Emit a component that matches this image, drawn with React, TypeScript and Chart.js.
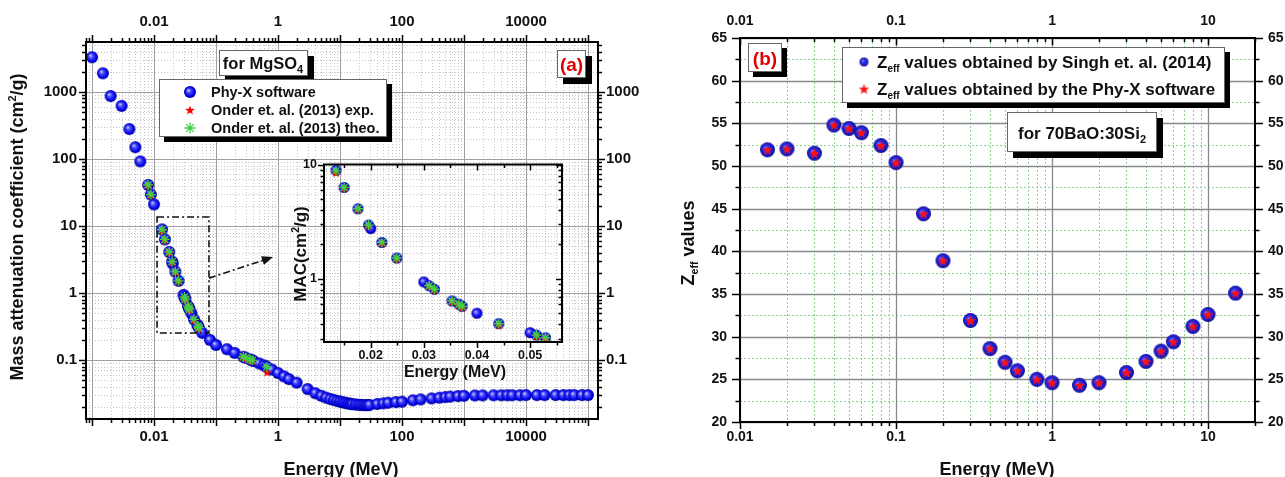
import React, { useEffect, useRef } from 'react';
import { Chart, registerables } from 'chart.js';

Chart.register(...registerables);

const FONT = "'Liberation Sans', Arial, Helvetica, sans-serif";

// ---------------- Panel (a): MAC of MgSO4 ----------------
const phyxEnergy = [
  0.001, 0.0015, 0.002, 0.003, 0.004, 0.005, 0.006, 0.00804, 0.00891, 0.01,
  0.01346, 0.015, 0.0176, 0.0196, 0.02, 0.0221, 0.0249, 0.03, 0.031, 0.032,
  0.0353, 0.0366, 0.0372, 0.04, 0.0441, 0.05, 0.0512, 0.0529, 0.06, 0.08,
  0.1, 0.15, 0.2, 0.276, 0.303, 0.356, 0.384, 0.4, 0.5, 0.6,
  0.662, 0.8, 1, 1.25, 1.5, 2, 3, 4, 5, 6,
  7, 8, 9, 10, 11, 12, 13, 14, 15, 16,
  18, 20, 22, 24, 26, 28, 30, 40, 50, 60,
  80, 100, 150, 200, 300, 400, 500, 600, 800, 1000,
  1500, 2000, 3000, 4000, 5000, 6000, 8000, 10000, 15000, 20000,
  30000, 40000, 50000, 60000, 80000, 100000,
];
const phyxMac = [
  3300, 1900, 870, 620, 280, 150, 92, 41, 29.5, 21,
  8.9, 6.3, 4.1, 2.95, 2.75, 2.08, 1.52, 0.94, 0.87, 0.81,
  0.64, 0.6, 0.575, 0.5, 0.405, 0.338, 0.322, 0.305, 0.255, 0.2,
  0.168, 0.145, 0.128, 0.112, 0.108, 0.102, 0.099, 0.097, 0.089, 0.083,
  0.079, 0.072, 0.064, 0.057, 0.052, 0.046, 0.037, 0.032, 0.0293, 0.0275,
  0.0262, 0.0253, 0.0246, 0.024, 0.0235, 0.0231, 0.0227, 0.0224, 0.0222, 0.022,
  0.0217, 0.0215, 0.0214, 0.0213, 0.0213, 0.0213, 0.0214, 0.0221, 0.0226, 0.0231,
  0.0236, 0.0239, 0.0251, 0.0259, 0.0268, 0.0274, 0.028, 0.0285, 0.029, 0.0293,
  0.0296, 0.0297, 0.0298, 0.0298, 0.0299, 0.0299, 0.0299, 0.03, 0.03, 0.03,
  0.03, 0.03, 0.03, 0.03, 0.03, 0.03,
];
const onderEnergy = [
  0.00804, 0.00891, 0.01346, 0.015, 0.0176, 0.0196, 0.0221, 0.0249, 0.031, 0.032,
  0.0353, 0.0366, 0.0372, 0.0441, 0.0512, 0.0529, 0.276, 0.303, 0.356, 0.384, 0.662,
];
const onderExp = [
  40, 29, 8.5, 6.2, 4.05, 2.9, 2.05, 1.5, 0.86, 0.8,
  0.63, 0.59, 0.56, 0.395, 0.315, 0.3, 0.111, 0.107, 0.1, 0.097, 0.066,
];
const onderTheo = [
  41, 29.5, 8.8, 6.3, 4.1, 2.95, 2.08, 1.52, 0.87, 0.81,
  0.64, 0.6, 0.575, 0.405, 0.322, 0.305, 0.112, 0.108, 0.102, 0.099, 0.079,
];
const aXLabels = [0.01, 1, 100, 10000];
const aYLabels = [0.1, 1, 10, 100, 1000];
const insetXTicks = [0.015, 0.02, 0.025, 0.03, 0.035, 0.04, 0.045, 0.05, 0.055];
const insetXLabels = [0.02, 0.03, 0.04, 0.05];
const insetYLabels = [1, 10];
// zoom box and arrow (data coordinates of panel a)
const zoomBoxEnergy = [0.0112, 0.077];
const zoomBoxMac = [0.253, 13.6];
const arrowFrom = [0.077, 1.67];
const arrowTo = [0.83, 3.44];

// ---------------- Panel (b): Zeff of 70BaO:30Si2 ----------------
const zeffEnergy = [
  0.015, 0.02, 0.03, 0.04, 0.05, 0.06, 0.08, 0.1, 0.15, 0.2,
  0.3, 0.4, 0.5, 0.6, 0.8, 1, 1.5, 2, 3, 4, 5, 6, 8, 10, 15,
];
const zeffSingh = [
  51.9, 52.0, 51.5, 54.8, 54.4, 53.9, 52.4, 50.4, 44.4, 38.9,
  31.9, 28.6, 27.0, 26.0, 25.0, 24.6, 24.3, 24.6, 25.8, 27.1, 28.3, 29.4, 31.2, 32.6, 35.1,
];
const zeffPhyx = [
  51.9, 52.0, 51.5, 54.8, 54.4, 53.9, 52.4, 50.4, 44.4, 38.9,
  31.9, 28.6, 27.0, 26.0, 25.0, 24.6, 24.3, 24.6, 25.8, 27.1, 28.3, 29.4, 31.2, 32.6, 35.1,
];
const bXLabels = [0.01, 0.1, 1, 10];
const bYTicks = [20, 22.5, 25, 27.5, 30, 32.5, 35, 37.5, 40, 42.5, 45, 47.5, 50, 52.5, 55, 57.5, 60, 62.5, 65];
const bYLabels = [20, 25, 30, 35, 40, 45, 50, 55, 60, 65];

// ---------------- helpers ----------------
function logTicks(min: number, max: number): number[] {
  const out: number[] = [];
  for (let e = Math.floor(Math.log10(min)) - 1; e <= Math.ceil(Math.log10(max)); e++) {
    for (let m = 1; m <= 9; m++) {
      const v = m * Math.pow(10, e);
      if (v >= min * 0.9999 && v <= max * 1.0001) out.push(v);
    }
  }
  return out;
}
const isDecade = (v: number) => {
  const l = Math.log10(v);
  return Math.abs(l - Math.round(l)) < 1e-6;
};
const pts = (xs: number[], ys: number[]) => xs.map((x, i) => ({ x, y: ys[i] }));

function sphereImage(r: number, c0: string, c1: string, c2: string, c3: string) {
  const s = Math.ceil(r * 2 + 2);
  const c = document.createElement('canvas');
  c.width = s;
  c.height = s;
  const g = c.getContext('2d')!;
  const cx = s / 2, cy = s / 2;
  const grad = g.createRadialGradient(cx - r * 0.3, cy - r * 0.3, 0, cx, cy, r);
  grad.addColorStop(0, c0);
  grad.addColorStop(0.35, c1);
  grad.addColorStop(0.8, c2);
  grad.addColorStop(1, c3);
  g.fillStyle = grad;
  g.beginPath();
  g.arc(cx, cy, r, 0, Math.PI * 2);
  g.fill();
  return c;
}
function starPath(g: CanvasRenderingContext2D, cx: number, cy: number, ro: number, ri: number) {
  g.beginPath();
  for (let i = 0; i < 10; i++) {
    const a = -Math.PI / 2 + (i * Math.PI) / 5;
    const rr = i % 2 === 0 ? ro : ri;
    const x = cx + rr * Math.cos(a), y = cy + rr * Math.sin(a);
    if (i === 0) g.moveTo(x, y);
    else g.lineTo(x, y);
  }
  g.closePath();
}
function starImage(r: number, fill: string) {
  const s = Math.ceil(r * 2 + 2);
  const c = document.createElement('canvas');
  c.width = s;
  c.height = s;
  const g = c.getContext('2d')!;
  starPath(g, s / 2, s / 2 + 0.5, r, r * 0.42);
  g.fillStyle = fill;
  g.fill();
  return c;
}
function combo(sph: HTMLCanvasElement, st: HTMLCanvasElement) {
  const s = Math.max(sph.width, st.width);
  const c = document.createElement('canvas');
  c.width = s;
  c.height = s;
  const g = c.getContext('2d')!;
  g.drawImage(sph, (s - sph.width) / 2, (s - sph.height) / 2);
  g.drawImage(st, (s - st.width) / 2, (s - st.height) / 2);
  return c;
}

function makeAxis(cfg: {
  type: 'logarithmic' | 'linear';
  position: 'left' | 'right' | 'top' | 'bottom';
  min: number;
  max: number;
  ticks: number[];
  labels: number[];
  fontSize: number;
  padding: number;
  size: number;
}) {
  const vertical = cfg.position === 'left' || cfg.position === 'right';
  return {
    type: cfg.type,
    position: cfg.position,
    min: cfg.min,
    max: cfg.max,
    grid: { display: false, drawTicks: false, drawOnChartArea: false },
    border: { display: false },
    afterBuildTicks: (s: any) => {
      s.ticks = cfg.ticks.map((v) => ({ value: v }));
    },
    afterFit: (s: any) => {
      if (vertical) s.width = cfg.size;
      else s.height = cfg.size;
    },
    ticks: {
      autoSkip: false,
      maxRotation: 0,
      minRotation: 0,
      padding: cfg.padding,
      color: '#111',
      font: { family: FONT, size: cfg.fontSize, weight: 'bold' },
      callback: (v: any) => {
        const n = Number(v);
        const m = cfg.labels.find((l) => Math.abs(l - n) <= Math.abs(l) * 1e-6);
        return m === undefined ? '' : String(m);
      },
    },
  };
}

function vLine(ctx: CanvasRenderingContext2D, x: number, t: number, b: number) {
  const p = Math.round(x) + 0.5;
  ctx.beginPath();
  ctx.moveTo(p, t);
  ctx.lineTo(p, b);
  ctx.stroke();
}
function hLine(ctx: CanvasRenderingContext2D, y: number, l: number, r: number) {
  const p = Math.round(y) + 0.5;
  ctx.beginPath();
  ctx.moveTo(l, p);
  ctx.lineTo(r, p);
  ctx.stroke();
}
function tickMarks(
  ctx: CanvasRenderingContext2D, ca: any, scale: any, values: number[],
  side: 'left' | 'right' | 'top' | 'bottom', dir: number,
  isMajor: (v: number) => boolean, lMaj: number, lMin: number,
) {
  ctx.beginPath();
  for (const v of values) {
    const len = isMajor(v) ? lMaj : lMin;
    if (side === 'top' || side === 'bottom') {
      const x = Math.round(scale.getPixelForValue(v)) + 0.5;
      const y0 = side === 'bottom' ? ca.bottom : ca.top;
      const sg = (side === 'bottom' ? 1 : -1) * dir;
      ctx.moveTo(x, y0);
      ctx.lineTo(x, y0 + sg * len);
    } else {
      const y = Math.round(scale.getPixelForValue(v)) + 0.5;
      const x0 = side === 'right' ? ca.right : ca.left;
      const sg = (side === 'right' ? 1 : -1) * dir;
      ctx.moveTo(x0, y);
      ctx.lineTo(x0 + sg * len, y);
    }
  }
  ctx.stroke();
}

type Seg = { t: string; s: number; dy?: number };
function setFont(ctx: CanvasRenderingContext2D, s: number) {
  ctx.font = `bold ${s}px ${FONT}`;
}
function segWidth(ctx: CanvasRenderingContext2D, segs: Seg[]) {
  let w = 0;
  for (const g of segs) {
    setFont(ctx, g.s);
    w += ctx.measureText(g.t).width;
  }
  return w;
}
function drawSegs(ctx: CanvasRenderingContext2D, segs: Seg[], x: number, y: number, align: 'left' | 'center', color: string) {
  ctx.fillStyle = color;
  ctx.textBaseline = 'alphabetic';
  ctx.textAlign = 'left';
  let cx = align === 'center' ? x - segWidth(ctx, segs) / 2 : x;
  for (const g of segs) {
    setFont(ctx, g.s);
    ctx.fillText(g.t, cx, y + (g.dy || 0));
    cx += ctx.measureText(g.t).width;
  }
}
function drawRotSegs(ctx: CanvasRenderingContext2D, segs: Seg[], cx: number, cy: number, size: number, color: string) {
  ctx.save();
  ctx.translate(cx, cy);
  ctx.rotate(-Math.PI / 2);
  drawSegs(ctx, segs, 0, size * 0.36, 'center', color);
  ctx.restore();
}
function shadowBox(ctx: CanvasRenderingContext2D, x: number, y: number, w: number, h: number, off: number) {
  ctx.setLineDash([]);
  ctx.fillStyle = '#000';
  ctx.fillRect(x + off, y + off, w, h);
  ctx.fillStyle = '#fff';
  ctx.fillRect(x, y, w, h);
  ctx.strokeStyle = '#666';
  ctx.lineWidth = 1;
  ctx.strokeRect(x + 0.5, y + 0.5, w - 1, h - 1);
}
function asterisk(ctx: CanvasRenderingContext2D, x: number, y: number, r: number, color: string) {
  ctx.strokeStyle = color;
  ctx.lineWidth = 1.3;
  ctx.setLineDash([]);
  ctx.beginPath();
  for (let i = 0; i < 4; i++) {
    const a = (i * Math.PI) / 4;
    ctx.moveTo(x - r * Math.cos(a), y - r * Math.sin(a));
    ctx.lineTo(x + r * Math.cos(a), y + r * Math.sin(a));
  }
  ctx.stroke();
}

// axis ranges
const A_X = [8.0e-4, 1.45e5];
const A_Y = [0.0132, 5570];
const IN_X = [0.0112, 0.056];
const IN_Y = [0.28, 10];
const B_X = [0.01, 20];
const B_Y = [20, 65];

export default function App() {
  const aRef = useRef<HTMLCanvasElement>(null);
  const inRef = useRef<HTMLCanvasElement>(null);
  const bRef = useRef<HTMLCanvasElement>(null);

  useEffect(() => {
    const charts: Chart[] = [];
    const sphA = sphereImage(6, '#e0e0ff', '#4a4aff', '#0000e6', '#00008c');
    const sphIn = sphereImage(5.5, '#e0e0ff', '#4a4aff', '#0000e6', '#00008c');
    const sphLeg = sphereImage(6, '#e0e0ff', '#4a4aff', '#0000e6', '#00008c');
    const starA = starImage(5, '#ff0000');
    const sphB = sphereImage(7.5, '#8080ff', '#3030e8', '#1a1ac8', '#0c0c80');
    const starB = starImage(5.5, '#ff1010');
    const sphBLeg = sphereImage(4.5, '#b0b0ff', '#3030e8', '#1a1ac8', '#0c0c80');

    const aXTicks = logTicks(A_X[0], A_X[1]);
    const aYTicks = logTicks(A_Y[0], A_Y[1]);
    const inYTicks = logTicks(IN_Y[0], IN_Y[1]);
    const bXTicks = logTicks(B_X[0], B_X[1]);

    const commonOpts = {
      responsive: false,
      maintainAspectRatio: false,
      animation: false as const,
      devicePixelRatio: 1,
      events: [] as any[],
    };

    // ---------- Panel (a) main ----------
    const aPlugin = {
      id: 'aDecor',
      beforeDatasetsDraw(chart: any) {
        const { ctx, chartArea: ca } = chart;
        const sx = chart.scales.x, sy = chart.scales.y;
        ctx.save();
        ctx.lineWidth = 1;
        ctx.strokeStyle = '#c6c6c6';
        ctx.setLineDash([1, 2]);
        for (const v of aXTicks) if (!isDecade(v)) vLine(ctx, sx.getPixelForValue(v), ca.top, ca.bottom);
        for (const v of aYTicks) if (!isDecade(v)) hLine(ctx, sy.getPixelForValue(v), ca.left, ca.right);
        ctx.setLineDash([]);
        ctx.strokeStyle = '#a0a0a0';
        for (const v of aXTicks) if (isDecade(v)) vLine(ctx, sx.getPixelForValue(v), ca.top, ca.bottom);
        for (const v of aYTicks) if (isDecade(v)) hLine(ctx, sy.getPixelForValue(v), ca.left, ca.right);
        ctx.restore();
      },
      afterDraw(chart: any) {
        const { ctx, chartArea: ca } = chart;
        const sx = chart.scales.x, sy = chart.scales.y;
        ctx.save();
        // frame + ticks
        ctx.strokeStyle = '#000';
        ctx.lineWidth = 1.5;
        tickMarks(ctx, ca, sx, aXTicks, 'bottom', 1, isDecade, 7, 4);
        tickMarks(ctx, ca, sx, aXTicks, 'top', 1, isDecade, 7, 4);
        tickMarks(ctx, ca, sy, aYTicks, 'left', 1, isDecade, 7, 4);
        tickMarks(ctx, ca, sy, aYTicks, 'right', 1, isDecade, 7, 4);
        ctx.lineWidth = 2;
        ctx.strokeRect(ca.left, ca.top, ca.right - ca.left, ca.bottom - ca.top);

        // zoom box + arrow
        const bx0 = sx.getPixelForValue(zoomBoxEnergy[0]);
        const bx1 = sx.getPixelForValue(zoomBoxEnergy[1]);
        const by0 = sy.getPixelForValue(zoomBoxMac[1]);
        const by1 = sy.getPixelForValue(zoomBoxMac[0]);
        ctx.strokeStyle = '#111';
        ctx.lineWidth = 1.6;
        ctx.setLineDash([7, 3, 2, 3]);
        ctx.strokeRect(bx0, by0, bx1 - bx0, by1 - by0);
        const ax0 = sx.getPixelForValue(arrowFrom[0]), ay0 = sy.getPixelForValue(arrowFrom[1]);
        const ax1 = sx.getPixelForValue(arrowTo[0]), ay1 = sy.getPixelForValue(arrowTo[1]);
        const ang = Math.atan2(ay1 - ay0, ax1 - ax0);
        ctx.beginPath();
        ctx.moveTo(ax0, ay0);
        ctx.lineTo(ax1 - 8 * Math.cos(ang), ay1 - 8 * Math.sin(ang));
        ctx.stroke();
        ctx.setLineDash([]);
        ctx.fillStyle = '#111';
        ctx.beginPath();
        ctx.moveTo(ax1, ay1);
        ctx.lineTo(ax1 - 11 * Math.cos(ang) + 4.5 * Math.sin(ang), ay1 - 11 * Math.sin(ang) - 4.5 * Math.cos(ang));
        ctx.lineTo(ax1 - 11 * Math.cos(ang) - 4.5 * Math.sin(ang), ay1 - 11 * Math.sin(ang) + 4.5 * Math.cos(ang));
        ctx.closePath();
        ctx.fill();

        // titles
        drawRotSegs(ctx, [
          { t: 'Mass attenuation coefficient (cm', s: 18 },
          { t: '2', s: 11, dy: -7 },
          { t: '/g)', s: 18 },
        ], 17, 227, 18, '#111');
        drawSegs(ctx, [{ t: 'Energy (MeV)', s: 18 }], 341, 475, 'center', '#111');

        // "for MgSO4" box
        shadowBox(ctx, 219, 50, 89, 26, 6);
        drawSegs(ctx, [{ t: 'for MgSO', s: 16.5 }, { t: '4', s: 11, dy: 4 }], 263, 69, 'center', '#111');
        // "(a)" box
        shadowBox(ctx, 557, 50, 29, 28, 6);
        drawSegs(ctx, [{ t: '(a)', s: 19 }], 571.5, 70.5, 'center', '#e00000');

        // legend
        shadowBox(ctx, 159, 79, 228, 58, 5);
        const lx = 190, tx = 211;
        ctx.drawImage(sphLeg, lx - sphLeg.width / 2, 92 - sphLeg.height / 2);
        ctx.drawImage(starA, lx - starA.width / 2, 110 - starA.height / 2);
        asterisk(ctx, lx, 128, 5.5, '#40d040');
        drawSegs(ctx, [{ t: 'Phy-X software', s: 14.5 }], tx, 97.2, 'left', '#111');
        drawSegs(ctx, [{ t: 'Onder et. al. (2013) exp.', s: 14.5 }], tx, 115.2, 'left', '#111');
        drawSegs(ctx, [{ t: 'Onder et. al. (2013) theo.', s: 14.5 }], tx, 133.2, 'left', '#111');
        ctx.restore();
      },
    };

    if (aRef.current) {
      charts.push(new Chart(aRef.current, {
        type: 'scatter',
        data: {
          datasets: [
            {
              label: 'Onder et. al. (2013) theo.',
              data: pts(onderEnergy, onderTheo),
              pointStyle: 'star',
              pointRadius: 5,
              borderColor: '#40d040',
              backgroundColor: '#40d040',
              borderWidth: 1.3,
              order: 0,
            },
            {
              label: 'Onder et. al. (2013) exp.',
              data: pts(onderEnergy, onderExp),
              pointStyle: starA,
              order: 1,
            },
            {
              label: 'Phy-X software',
              data: pts(phyxEnergy, phyxMac),
              pointStyle: sphA,
              order: 2,
            },
          ] as any,
        },
        options: {
          ...commonOpts,
          layout: { padding: 0 },
          plugins: { legend: { display: false }, tooltip: { enabled: false } },
          scales: {
            x: makeAxis({ type: 'logarithmic', position: 'bottom', min: A_X[0], max: A_X[1], ticks: aXTicks, labels: aXLabels, fontSize: 15, padding: 9, size: 58 }),
            x2: makeAxis({ type: 'logarithmic', position: 'top', min: A_X[0], max: A_X[1], ticks: aXTicks, labels: aXLabels, fontSize: 15, padding: 11, size: 42 }),
            y: makeAxis({ type: 'logarithmic', position: 'left', min: A_Y[0], max: A_Y[1], ticks: aYTicks, labels: aYLabels, fontSize: 15, padding: 9, size: 86 }),
            y2: makeAxis({ type: 'logarithmic', position: 'right', min: A_Y[0], max: A_Y[1], ticks: aYTicks, labels: aYLabels, fontSize: 15, padding: 8, size: 62 }),
          } as any,
        },
        plugins: [aPlugin],
      }));
    }

    // ---------- Inset ----------
    const inOff = { x: 280, y: 150 };
    const inPlugin = {
      id: 'inDecor',
      afterDraw(chart: any) {
        const { ctx, chartArea: ca } = chart;
        const sx = chart.scales.x, sy = chart.scales.y;
        ctx.save();
        ctx.strokeStyle = '#000';
        ctx.lineWidth = 1.5;
        const xMaj = (v: number) => insetXLabels.some((l) => Math.abs(l - v) < 1e-9);
        tickMarks(ctx, ca, sx, insetXTicks, 'bottom', 1, xMaj, 6, 3.5);
        tickMarks(ctx, ca, sx, insetXTicks, 'top', -1, xMaj, 6, 3.5);
        tickMarks(ctx, ca, sy, inYTicks, 'left', 1, isDecade, 6, 3.5);
        tickMarks(ctx, ca, sy, inYTicks, 'right', -1, isDecade, 6, 3.5);
        ctx.lineWidth = 2;
        ctx.strokeRect(ca.left, ca.top, ca.right - ca.left, ca.bottom - ca.top);
        ctx.translate(-inOff.x, -inOff.y);
        drawRotSegs(ctx, [
          { t: 'MAC(cm', s: 17 },
          { t: '2', s: 10.5, dy: -7 },
          { t: '/g)', s: 17 },
        ], 300, 254, 17, '#111');
        drawSegs(ctx, [{ t: 'Energy (MeV)', s: 16 }], 455, 377, 'center', '#111');
        ctx.restore();
      },
    };
    const inRange = (e: number) => e >= IN_X[0] && e <= IN_X[1];
    const inPhyx = pts(phyxEnergy, phyxMac).filter((p) => inRange(p.x));
    const inExp = pts(onderEnergy, onderExp).filter((p) => inRange(p.x));
    const inTheo = pts(onderEnergy, onderTheo).filter((p) => inRange(p.x));
    if (inRef.current) {
      charts.push(new Chart(inRef.current, {
        type: 'scatter',
        data: {
          datasets: [
            { label: 'theo', data: inTheo, pointStyle: 'star', pointRadius: 5, borderColor: '#40d040', backgroundColor: '#40d040', borderWidth: 1.3, order: 0 },
            { label: 'exp', data: inExp, pointStyle: starA, order: 1 },
            { label: 'phyx', data: inPhyx, pointStyle: sphIn, order: 2 },
          ] as any,
        },
        options: {
          ...commonOpts,
          layout: { padding: { top: 12, right: 18, left: 0, bottom: 0 } },
          plugins: { legend: { display: false }, tooltip: { enabled: false } },
          scales: {
            x: makeAxis({ type: 'linear', position: 'bottom', min: IN_X[0], max: IN_X[1], ticks: insetXTicks, labels: insetXLabels, fontSize: 12.5, padding: 6.5, size: 48 }),
            y: makeAxis({ type: 'logarithmic', position: 'left', min: IN_Y[0], max: IN_Y[1], ticks: inYTicks, labels: insetYLabels, fontSize: 12.5, padding: 7, size: 44 }),
          } as any,
        },
        plugins: [inPlugin],
      }));
    }

    // ---------- Panel (b) ----------
    const bOffX = 660;
    const bPlugin = {
      id: 'bDecor',
      beforeDatasetsDraw(chart: any) {
        const { ctx, chartArea: ca } = chart;
        const sx = chart.scales.x, sy = chart.scales.y;
        ctx.save();
        ctx.lineWidth = 1;
        ctx.strokeStyle = '#8fd08f';
        ctx.setLineDash([2, 2]);
        for (const v of bXTicks) if (!isDecade(v)) vLine(ctx, sx.getPixelForValue(v), ca.top, ca.bottom);
        for (const v of bYTicks) if (v % 5 !== 0) hLine(ctx, sy.getPixelForValue(v), ca.left, ca.right);
        ctx.setLineDash([]);
        ctx.strokeStyle = '#8a8a8a';
        ctx.lineWidth = 1.3;
        for (const v of bXTicks) if (isDecade(v)) vLine(ctx, sx.getPixelForValue(v), ca.top, ca.bottom);
        for (const v of bYTicks) if (v % 5 === 0) hLine(ctx, sy.getPixelForValue(v), ca.left, ca.right);
        ctx.restore();
      },
      afterDraw(chart: any) {
        const { ctx, chartArea: ca } = chart;
        const sx = chart.scales.x, sy = chart.scales.y;
        ctx.save();
        ctx.strokeStyle = '#000';
        ctx.lineWidth = 1.5;
        const yMaj = (v: number) => v % 5 === 0;
        tickMarks(ctx, ca, sx, bXTicks, 'bottom', 1, isDecade, 7, 4);
        tickMarks(ctx, ca, sx, bXTicks, 'top', -1, isDecade, 7, 4);
        tickMarks(ctx, ca, sy, bYTicks, 'left', 1, yMaj, 8, 4.5);
        tickMarks(ctx, ca, sy, bYTicks, 'right', 1, yMaj, 8, 4.5);
        ctx.lineWidth = 2;
        ctx.strokeRect(ca.left, ca.top, ca.right - ca.left, ca.bottom - ca.top);

        ctx.translate(-bOffX, 0);
        drawRotSegs(ctx, [
          { t: 'Z', s: 18 },
          { t: 'eff', s: 10.5, dy: 4 },
          { t: ' values', s: 18 },
        ], 688, 243, 18, '#111');
        drawSegs(ctx, [{ t: 'Energy (MeV)', s: 18 }], 997, 475, 'center', '#111');

        // (b)
        shadowBox(ctx, 748, 43, 34, 29, 5);
        drawSegs(ctx, [{ t: '(b)', s: 19 }], 765, 65, 'center', '#e00000');
        // legend
        shadowBox(ctx, 842, 47, 383, 56, 5);
        ctx.drawImage(sphBLeg, 864 - sphBLeg.width / 2, 62 - sphBLeg.height / 2);
        ctx.drawImage(starB, 864 - starB.width / 2, 89 - starB.height / 2);
        drawSegs(ctx, [
          { t: 'Z', s: 17 },
          { t: 'eff', s: 10, dy: 4 },
          { t: ' values obtained by Singh et. al. (2014)', s: 17 },
        ], 877, 68, 'left', '#111');
        drawSegs(ctx, [
          { t: 'Z', s: 17 },
          { t: 'eff', s: 10, dy: 4 },
          { t: ' values obtained by the Phy-X software', s: 17 },
        ], 877, 95, 'left', '#111');
        // material box
        shadowBox(ctx, 1007, 112, 150, 40, 6);
        drawSegs(ctx, [{ t: 'for 70BaO:30Si', s: 17 }, { t: '2', s: 11, dy: 4 }], 1082, 139, 'center', '#111');
        ctx.restore();
      },
    };
    if (bRef.current) {
      charts.push(new Chart(bRef.current, {
        type: 'scatter',
        data: {
          datasets: [
            { label: 'Zeff values obtained by the Phy-X software', data: pts(zeffEnergy, zeffPhyx), pointStyle: starB, order: 0 },
            { label: 'Zeff values obtained by Singh et. al. (2014)', data: pts(zeffEnergy, zeffSingh), pointStyle: sphB, order: 1 },
          ] as any,
        },
        options: {
          ...commonOpts,
          layout: { padding: 0 },
          plugins: { legend: { display: false }, tooltip: { enabled: false } },
          scales: {
            x: makeAxis({ type: 'logarithmic', position: 'bottom', min: B_X[0], max: B_X[1], ticks: bXTicks, labels: bXLabels, fontSize: 14, padding: 7, size: 55 }),
            x2: makeAxis({ type: 'logarithmic', position: 'top', min: B_X[0], max: B_X[1], ticks: bXTicks, labels: bXLabels, fontSize: 14, padding: 8, size: 38 }),
            y: makeAxis({ type: 'linear', position: 'left', min: B_Y[0], max: B_Y[1], ticks: bYTicks, labels: bYLabels, fontSize: 14, padding: 13, size: 80 }),
            y2: makeAxis({ type: 'linear', position: 'right', min: B_Y[0], max: B_Y[1], ticks: bYTicks, labels: bYLabels, fontSize: 14, padding: 13, size: 30 }),
          } as any,
        },
        plugins: [bPlugin],
      }));
    }

    return () => charts.forEach((c) => c.destroy());
  }, []);

  return (
    <div style={{ position: 'absolute', left: 0, top: 0, width: 1285, height: 477, background: '#fff', overflow: 'hidden' }}>
      <canvas ref={aRef} width={660} height={477} style={{ position: 'absolute', left: 0, top: 0, width: 660, height: 477 }} />
      <canvas ref={inRef} width={300} height={240} style={{ position: 'absolute', left: 280, top: 150, width: 300, height: 240 }} />
      <canvas ref={bRef} width={625} height={477} style={{ position: 'absolute', left: 660, top: 0, width: 625, height: 477 }} />
    </div>
  );
}
